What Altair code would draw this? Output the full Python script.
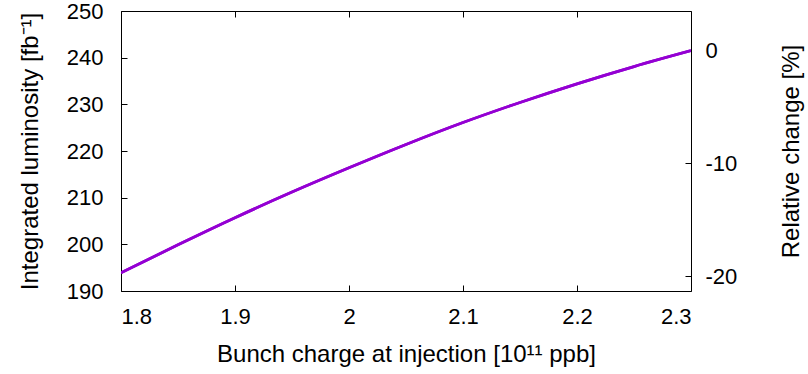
import altair as alt
import pandas as pd

# Data
charge = [1.80, 1.85, 1.90, 1.95, 2.00, 2.05, 2.10, 2.15, 2.20, 2.25, 2.30]
luminosity = [193.9, 199.9, 205.7, 211.2, 216.4, 221.4, 226.1, 230.4, 234.4, 238.1, 241.5]
x_ticks = [1.8, 1.9, 2.0, 2.1, 2.2, 2.3]
y_ticks = [190, 200, 210, 220, 230, 240, 250]
rel_ticks = [-20, -10, 0]
y_domain = [190, 250]
x_domain = [1.8, 2.3]

ref = luminosity[-1]
relative = [(v / ref - 1) * 100 for v in luminosity]
rel_domain = [(y_domain[0] / ref - 1) * 100, (y_domain[1] / ref - 1) * 100]

df = pd.DataFrame({"charge": charge, "lumi": luminosity, "rel": relative})

FONT = "Liberation Sans"
LFS = 22
TFS = 24
COLOR = "#9400D3"

base = alt.Chart(df)

left = base.mark_line(color=COLOR, strokeWidth=2.8, clip=True, interpolate="monotone").encode(
    x=alt.X("charge:Q", scale=alt.Scale(domain=x_domain, nice=False, zero=False),
            axis=alt.Axis(orient="bottom", values=x_ticks, labelExpr="'' + datum.value",
                          title="Bunch charge at injection [10¹¹ ppb]",
                          offset=-6, tickSize=6, labelPadding=15, titlePadding=15)),
    y=alt.Y("lumi:Q", scale=alt.Scale(domain=y_domain, nice=False, zero=False),
            axis=alt.Axis(orient="left", values=y_ticks, labelExpr="'' + datum.value",
                          title="Integrated luminosity [fb⁻¹]",
                          offset=-6, tickSize=6, labelPadding=18, titlePadding=24)),
)

right = base.mark_line(color=COLOR, strokeWidth=2.8, clip=True, interpolate="monotone").encode(
    x=alt.X("charge:Q", scale=alt.Scale(domain=x_domain, nice=False, zero=False),
            axis=alt.Axis(orient="top", values=x_ticks, labels=False, title=None,
                          offset=-6, tickSize=6)),
    y=alt.Y("rel:Q", scale=alt.Scale(domain=rel_domain, nice=False, zero=False),
            axis=alt.Axis(orient="right", values=rel_ticks, labelExpr="'' + datum.value",
                          title="Relative change [%]", titleAngle=270,
                          offset=-6, tickSize=6, labelPadding=14, titlePadding=67)),
)

chart = (
    alt.layer(left, right)
    .resolve_scale(y="independent")
    .resolve_axis(x="independent", y="independent")
    .properties(
        width=570, height=280,
        autosize=alt.AutoSizeParams(type="none"),
        padding={"left": 121, "top": 11, "right": 117, "bottom": 83},
        background="white",
    )
    .configure_view(stroke="black", strokeWidth=1)
    .configure_axis(
        domain=False, grid=False, tickColor="black", tickWidth=1,
        labelFont=FONT, labelFontSize=LFS, labelColor="black",
        titleFont=FONT, titleFontSize=TFS, titleFontWeight="normal", titleColor="black",
    )
)

chart.save("out.html", embed_options={"renderer": "svg", "actions": False})
